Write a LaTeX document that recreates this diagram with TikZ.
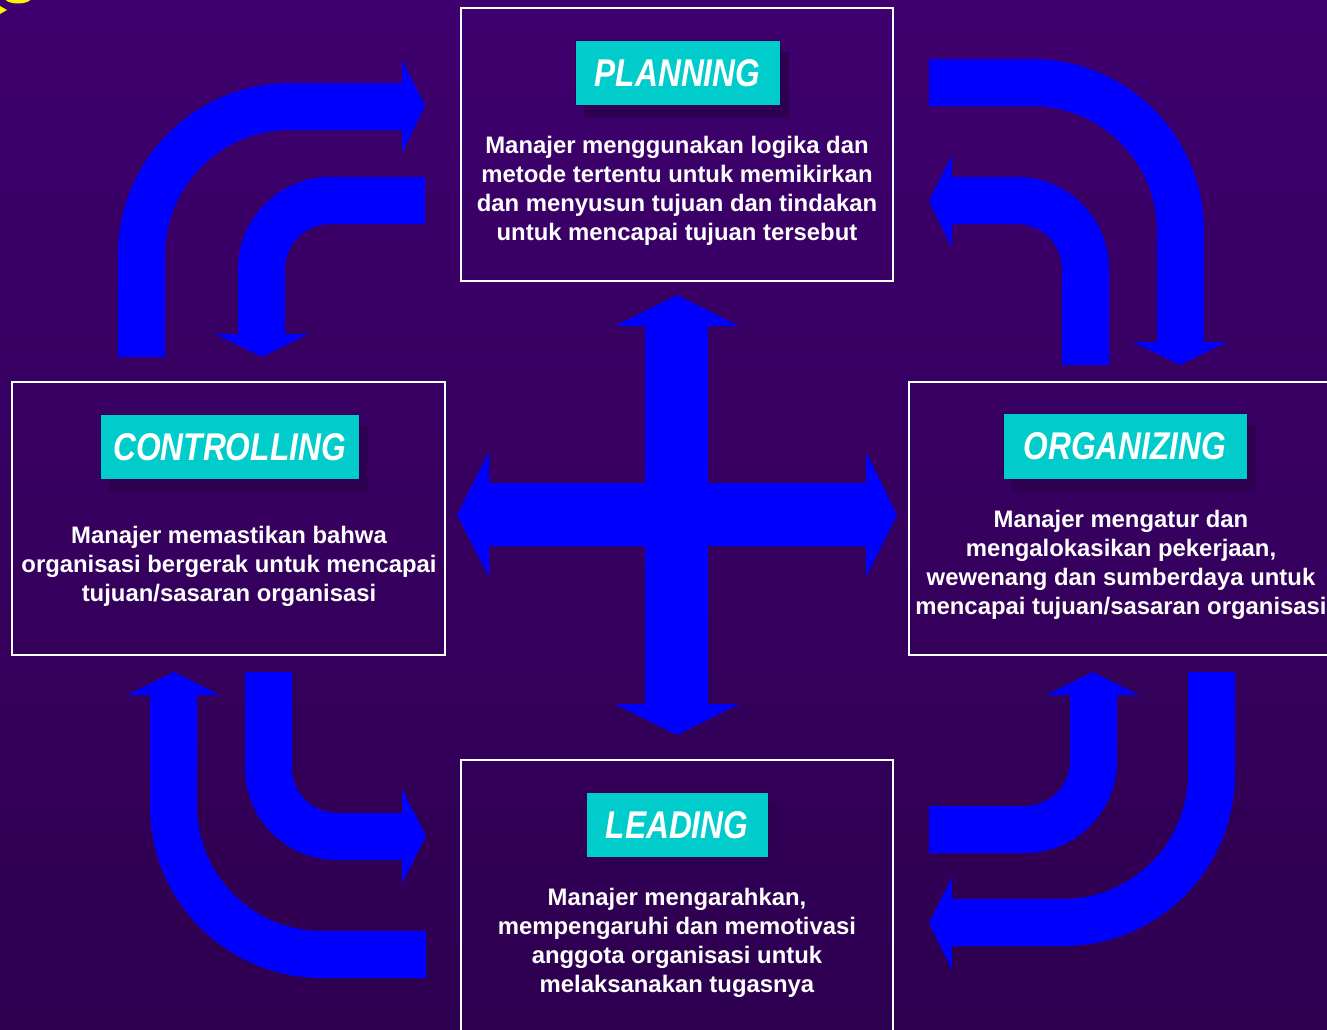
\documentclass[tikz,border=0pt]{standalone}
\usepackage{fontspec}
\setmainfont{Liberation Sans}
\newfontfamily\narrowfont[FakeStretch=0.82]{Liberation Sans}
\usetikzlibrary{shadows}
\definecolor{bgtop}{RGB}{62,0,110}
\definecolor{bgmid}{RGB}{78,0,140}
\definecolor{bgbot}{RGB}{46,0,80}
\definecolor{tagteal}{RGB}{0,204,204}
\definecolor{tagshade}{RGB}{46,0,80}
\tikzset{
  panel/.style={draw=white,line width=1.6pt},
  tag/.style={fill=tagteal,draw=tagshade,line width=0.6pt,minimum height=49pt,inner sep=0pt,
    text=white,font=\narrowfont\bfseries\itshape\fontsize{29}{34}\selectfont,
    drop shadow={shadow xshift=7pt,shadow yshift=-8.5pt,fill=tagshade,opacity=1}},
  blurb/.style={align=center,text=white,font=\bfseries\fontsize{17.9}{21.75}\selectfont},
  bigarrow/.style={fill=blue}
}
\begin{document}
\begin{tikzpicture}[x=0.75pt,y=-0.75pt]
\useasboundingbox (0,0) rectangle (1327,1029);
\shade[top color=bgtop,middle color=bgmid,bottom color=bgbot] (0,0) rectangle (1327,1029);
\fill[yellow] (18,-4) ellipse [x radius=15,y radius=7.5];
\fill[yellow] (0,6) -- (7,10) -- (0,14) -- cycle;
%%%%%%%%%%%%%%%%
\draw[panel] (461,8) rectangle (893,281);
\draw[panel] (12,382) rectangle (445,655);
\draw[panel] (909,382) rectangle (1345,655);
\draw[panel] (461,760) rectangle (893,1045);
%%%%%%%%%%%%%%%% top left
\fill[bigarrow] (118,357) -- (118,255) arc[start angle=180,end angle=270,radius=172]
  -- (402,83) -- (402,60) -- (425,106) -- (402,153) -- (402,130) -- (290,130)
  arc[start angle=270,end angle=180,radius=125] -- (165,357) -- cycle;
\fill[bigarrow] (425,177) -- (330,177) arc[start angle=270,end angle=180,radius=92]
  -- (238,334) -- (215,334) -- (262,357) -- (308,334) -- (285,334) -- (285,269)
  arc[start angle=180,end angle=270,radius=45] -- (425,224) -- cycle;
%%%%%%%%%%%%%%%% top right
\fill[bigarrow] (929,59) -- (1032,59) arc[start angle=270,end angle=360,radius=172]
  -- (1204,342) -- (1227,342) -- (1180,365) -- (1133,342) -- (1157,342) -- (1157,231)
  arc[start angle=0,end angle=-90,radius=125] -- (929,106) -- cycle;
\fill[bigarrow] (952,177) -- (1017,177) arc[start angle=270,end angle=360,radius=92]
  -- (1109,365) -- (1062,365) -- (1062,269)
  arc[start angle=0,end angle=-90,radius=45] -- (952,224) -- (952,248) -- (929,201) -- (952,155) -- cycle;
%%%%%%%%%%%%%%%% bottom right
\fill[bigarrow] (929,806) -- (1025,806) arc[start angle=90,end angle=0,radius=45]
  -- (1070,695) -- (1046,695) -- (1093,672) -- (1139,695) -- (1117,695) -- (1117,761)
  arc[start angle=0,end angle=90,radius=92] -- (929,853) -- cycle;
\fill[bigarrow] (1188,672) -- (1235,672) -- (1235,774) arc[start angle=0,end angle=90,radius=172]
  -- (952,946) -- (952,970) -- (929,923) -- (952,877) -- (952,899) -- (1063,899)
  arc[start angle=90,end angle=0,radius=125] -- cycle;
%%%%%%%%%%%%%%%% bottom left
\fill[bigarrow] (426,978) -- (322,978) arc[start angle=90,end angle=180,radius=172]
  -- (150,695) -- (127,695) -- (174,672) -- (220,695) -- (197,695) -- (197,806)
  arc[start angle=180,end angle=90,radius=125] -- (426,931) -- cycle;
\fill[bigarrow] (245,672) -- (292,672) -- (292,768) arc[start angle=180,end angle=90,radius=45]
  -- (402,813) -- (402,789) -- (426,836) -- (402,883) -- (402,860) -- (337,860)
  arc[start angle=90,end angle=180,radius=92] -- cycle;
%%%%%%%%%%%%%%%% cross
\fill[bigarrow] (677,295) -- (739,326) -- (708,326) -- (708,483) -- (866,483) -- (866,452)
  -- (897,515) -- (866,577) -- (866,546) -- (708,546) -- (708,704) -- (739,704)
  -- (677,735) -- (615,704) -- (645,704) -- (645,546) -- (489,546) -- (489,577)
  -- (457,515) -- (489,452) -- (489,483) -- (645,483) -- (645,326) -- (615,326) -- cycle;
%%%%%%%%%%%%%%%%
\node[tag,minimum width=153.75pt] (plan) at (677.5,73) {PLANNING};
\node[blurb] (plantext) at (677,190.5) {Manajer menggunakan logika dan\\metode tertentu untuk memikirkan\\dan menyusun tujuan dan tindakan\\untuk mencapai tujuan tersebut};
%%%%%%%%%%%%%%%%
\node[tag,minimum width=194.25pt] (control) at (229.5,447) {CONTROLLING};
\node[blurb] (controltext) at (229,566) {Manajer memastikan bahwa\\organisasi bergerak untuk mencapai\\tujuan/sasaran organisasi};
%%%%%%%%%%%%%%%%
\node[tag,minimum width=183pt] (organize) at (1125,446.5) {ORGANIZING};
\node[blurb] (organizetext) at (1121,564.5) {Manajer mengatur dan\\mengalokasikan pekerjaan,\\wewenang dan sumberdaya untuk\\mencapai tujuan/sasaran organisasi};
%%%%%%%%%%%%%%%%
\node[tag,minimum width=136.5pt] (lead) at (677,825) {LEADING};
\node[blurb] (leadtext) at (677,942.5) {Manajer mengarahkan,\\mempengaruhi dan memotivasi\\anggota organisasi untuk\\melaksanakan tugasnya};
\end{tikzpicture}
\end{document}
